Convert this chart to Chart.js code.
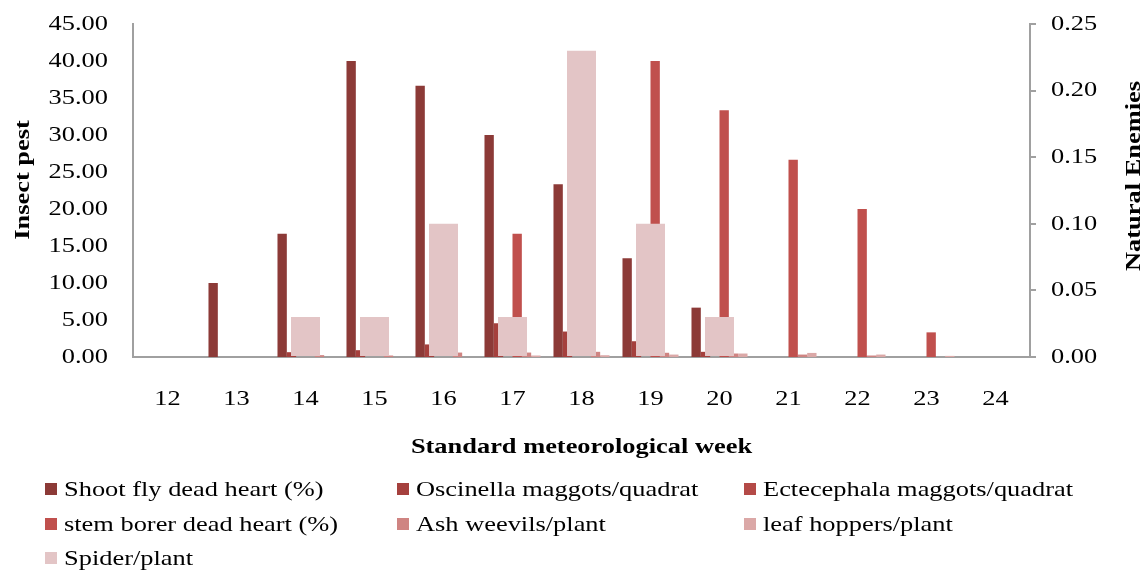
<!DOCTYPE html>
<html><head><meta charset="utf-8">
<script src="https://cdn.jsdelivr.net/npm/chart.js@4.4.1/dist/chart.umd.min.js"></script>
<style>html,body{margin:0;padding:0;background:#fff;} #c{display:block;}</style>
</head><body>
<canvas id="c" width="1146" height="571"></canvas>
<script>
// ---- data ----
const weeks = ['12','13','14','15','16','17','18','19','20','21','22','23','24'];
const shootFly    = [0, 10.00, 16.67, 40.00, 36.67, 30.00, 23.33, 13.33, 6.67, 0, 0, 0, 0];
const oscinella   = [0, 0, 0.65, 0.92, 1.70, 4.56, 3.44, 2.13, 0.70, 0, 0, 0, 0];
const ectecephala = [0, 0, 0, 0, 0, 0, 0, 0, 0, 0, 0, 0, 0];
const stemBorer   = [0, 0, 0, 0, 0, 16.67, 0, 40.00, 33.33, 26.67, 20.00, 3.33, 0];
const ashWeevils  = [0, 0, 0.25, 0.20, 0.60, 0.60, 0.70, 0.57, 0.47, 0.33, 0.20, 0, 0];
const leafHoppers = [0, 0, 0, 0, 0, 0.20, 0.24, 0.33, 0.47, 0.55, 0.33, 0.15, 0];
const spider      = [0, 0, 0.03, 0.03, 0.10, 0.03, 0.23, 0.10, 0.03, 0, 0, 0, 0];

const seriesNames = ['Shoot fly dead heart (%)','Oscinella maggots/quadrat','Ectecephala maggots/quadrat',
  'stem borer dead heart (%)','Ash weevils/plant','leaf hoppers/plant','Spider/plant'];
const seriesColors = ['#8C3A37','#A5403D','#B44A47','#C0504D','#CF8482','#DBA8A7','#E3C5C6'];
const xTitle = 'Standard meteorological week';
const yTitle = 'Insect pest';
const y1Title = 'Natural Enemies';

const FONT = "'Liberation Serif','Times New Roman',serif";
const AXIS = '#A0A0A0';
const TEXT_STRETCH = 1.2; // glyphs in the reference are wider than plain Times

const canvas = document.getElementById('c');
const ctx0 = canvas.getContext('2d');
const origFillText = ctx0.fillText.bind(ctx0);
ctx0.fillText = function (text, x, y, maxWidth) {
  this.save();
  this.translate(x, y);
  this.scale(TEXT_STRETCH, 1);
  if (maxWidth === undefined) origFillText(text, 0, 0);
  else origFillText(text, 0, 0, maxWidth / TEXT_STRETCH);
  this.restore();
};

const titlesLegend = {
  id: 'titlesLegend',
  afterDraw(chart) {
    const ctx = chart.ctx, ca = chart.chartArea;
    ctx.save();
    ctx.fillStyle = '#000';
    ctx.font = 'bold 22px ' + FONT;
    ctx.textAlign = 'center'; ctx.textBaseline = 'middle';
    ctx.fillText(xTitle, (ca.left + ca.right) / 2, 447);
    ctx.save(); ctx.translate(23, 180); ctx.rotate(-Math.PI / 2); ctx.fillText(yTitle, 0, 0); ctx.restore();
    ctx.save(); ctx.translate(1134, 176); ctx.rotate(-Math.PI / 2); ctx.fillText(y1Title, 0, 0); ctx.restore();
    ctx.font = '22px ' + FONT; ctx.textAlign = 'left';
    const colX = [45, 397, 744], rowY = [489, 524, 558];
    chart.data.datasets.forEach((ds, i) => {
      const x = colX[i % 3], y = rowY[Math.floor(i / 3)];
      ctx.fillStyle = ds.backgroundColor; ctx.fillRect(x, y - 6, 12, 12);
      ctx.fillStyle = '#000'; ctx.fillText(ds.label, x + 19, y + 1);
    });
    ctx.restore();
  }
};

const primary = [shootFly, oscinella, ectecephala, stemBorer, ashWeevils, leafHoppers];
const datasets = primary.map((d, i) => ({
  label: seriesNames[i], data: d, yAxisID: 'y',
  backgroundColor: seriesColors[i], categoryPercentage: 0.812, barPercentage: 1
}));
datasets.push({
  label: seriesNames[6], data: spider, yAxisID: 'y1', grouped: false, order: -1,
  backgroundColor: seriesColors[6], categoryPercentage: 0.42, barPercentage: 1
});

function fixV(width) {
  return function (s) { s.width = width; s.paddingTop = 0; s.paddingBottom = 0; };
}

const tickFont = { family: FONT, size: 22 };
new Chart(canvas, {
  type: 'bar',
  data: { labels: weeks, datasets },
  options: {
    responsive: false, animation: false, devicePixelRatio: 1,
    layout: { padding: { top: 24, left: 0, right: 0, bottom: 0 } },
    plugins: { legend: { display: false }, tooltip: { enabled: false } },
    scales: {
      x: {
        grid: { display: false, drawTicks: false },
        border: { display: true, color: AXIS, width: 2 },
        ticks: { font: tickFont, color: '#000', padding: 29, maxRotation: 0, autoSkip: false },
        afterFit(s) { s.height = 571 - 357; s.paddingLeft = 0; s.paddingRight = 0; }
      },
      y: {
        position: 'left', min: 0, max: 45,
        grid: { display: false, drawTicks: false },
        border: { display: true, color: AXIS, width: 2 },
        ticks: { stepSize: 5, callback: v => Number(v).toFixed(2), font: tickFont, color: '#000', padding: 25 },
        afterFit: fixV(133)
      },
      y1: {
        position: 'right', min: 0, max: 0.25,
        grid: { display: true, drawOnChartArea: false, drawTicks: true, tickLength: 6, color: AXIS, lineWidth: 2 },
        border: { display: true, color: AXIS, width: 2 },
        ticks: { stepSize: 0.05, callback: v => Number(v).toFixed(2), font: tickFont, color: '#000', padding: 15 },
        afterFit: fixV(116)
      }
    }
  },
  plugins: [titlesLegend]
});
</script>
</body></html>
